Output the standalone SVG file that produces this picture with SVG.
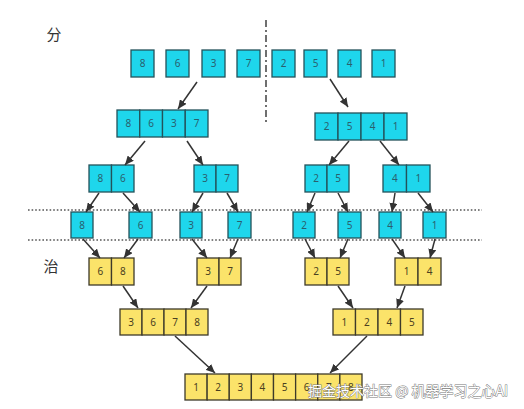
<svg xmlns="http://www.w3.org/2000/svg" width="524" height="409" viewBox="0 0 524 409">
<style>
.c rect{fill:#1ED6EC;stroke:#24525A;stroke-width:1.3}
.c text{fill:#2A5F6E}
.y rect{fill:#FBE36A;stroke:#3D3A2A;stroke-width:1.3}
.y text{fill:#4A4020}
text{font-family:"Noto Sans","Liberation Sans",sans-serif;font-size:10px;text-anchor:middle}
.lbl{font-family:"Noto Sans CJK SC",sans-serif;font-size:15px;fill:#333;text-anchor:middle}
.ar{stroke:#333;stroke-width:1.5;fill:none;marker-end:url(#ah)}
.dot{stroke:#555;stroke-width:1.6;stroke-dasharray:1.6 2}
</style>
<defs>
<marker id="ah" markerUnits="userSpaceOnUse" markerWidth="9" markerHeight="8" refX="9" refY="4" orient="auto">
<path d="M0,0 L9,4 L0,8 z" fill="#333"/>
</marker>
</defs>
<rect width="524" height="409" fill="#fff"/>
<text class="lbl" x="54" y="40">分</text>
<text class="lbl" x="51" y="272">治</text>
<line x1="266" y1="20" x2="266" y2="122" stroke="#333" stroke-width="1.4" stroke-dasharray="7 3 2 3"/>
<line class="dot" x1="28" y1="210" x2="482" y2="210"/>
<line class="dot" x1="28" y1="240" x2="482" y2="240"/>

<g id="top" class="c">
<rect x="131" y="50" width="23" height="27"/><text x="142.5" y="67">8</text>
<rect x="166" y="50" width="23" height="27"/><text x="177.5" y="67">6</text>
<rect x="202" y="50" width="23" height="27"/><text x="213.5" y="67">3</text>
<rect x="237" y="50" width="23" height="27"/><text x="248.5" y="67">7</text>
<rect x="272" y="50" width="23" height="27"/><text x="283.5" y="67">2</text>
<rect x="304" y="50" width="23" height="27"/><text x="315.5" y="67">5</text>
<rect x="338" y="50" width="23" height="27"/><text x="349.5" y="67">4</text>
<rect x="372" y="50" width="23" height="27"/><text x="383.5" y="67">1</text>
</g>

<g id="l2a" class="c">
<rect x="117" y="110" width="22.75" height="27"/><text x="128.4" y="127">8</text>
<rect x="139.75" y="110" width="22.75" height="27"/><text x="151.1" y="127">6</text>
<rect x="162.5" y="110" width="22.75" height="27"/><text x="173.9" y="127">3</text>
<rect x="185.25" y="110" width="22.75" height="27"/><text x="196.6" y="127">7</text>
</g>
<g id="l2b" class="c">
<rect x="315" y="113" width="23" height="27"/><text x="326.5" y="130">2</text>
<rect x="338" y="113" width="23" height="27"/><text x="349.5" y="130">5</text>
<rect x="361" y="113" width="23" height="27"/><text x="372.5" y="130">4</text>
<rect x="384" y="113" width="23" height="27"/><text x="395.5" y="130">1</text>
</g>

<g id="l3a" class="c">
<rect x="89" y="165" width="22.5" height="27"/><text x="100.25" y="182">8</text>
<rect x="111.5" y="165" width="22.5" height="27"/><text x="122.75" y="182">6</text>
</g>
<g id="l3b" class="c">
<rect x="194" y="165" width="22" height="27"/><text x="205" y="182">3</text>
<rect x="216" y="165" width="22" height="27"/><text x="227" y="182">7</text>
</g>
<g id="l3c" class="c">
<rect x="305" y="165" width="22" height="27"/><text x="316" y="182">2</text>
<rect x="327" y="165" width="22" height="27"/><text x="338" y="182">5</text>
</g>
<g id="l3d" class="c">
<rect x="383" y="165" width="23.5" height="27"/><text x="394.75" y="182">4</text>
<rect x="406.5" y="165" width="23.5" height="27"/><text x="418.25" y="182">1</text>
</g>

<g id="l4" class="c">
<rect x="71" y="212" width="22" height="26"/><text x="82" y="229">8</text>
<rect x="129" y="212" width="23" height="26"/><text x="140.5" y="229">6</text>
<rect x="180" y="212" width="22" height="26"/><text x="191" y="229">3</text>
<rect x="228" y="212" width="23" height="26"/><text x="239.5" y="229">7</text>
<rect x="293" y="212" width="22" height="26"/><text x="304" y="229">2</text>
<rect x="338" y="212" width="23" height="26"/><text x="349.5" y="229">5</text>
<rect x="379" y="212" width="22" height="26"/><text x="390" y="229">4</text>
<rect x="423" y="212" width="23" height="26"/><text x="434.5" y="229">1</text>
</g>

<g id="y1a" class="y">
<rect x="89" y="258" width="22.5" height="27"/><text x="100.25" y="275">6</text>
<rect x="111.5" y="258" width="22.5" height="27"/><text x="122.75" y="275">8</text>
</g>
<g id="y1b" class="y">
<rect x="197" y="258" width="22" height="27"/><text x="208" y="275">3</text>
<rect x="219" y="258" width="22" height="27"/><text x="230" y="275">7</text>
</g>
<g id="y1c" class="y">
<rect x="305" y="258" width="22" height="27"/><text x="316" y="275">2</text>
<rect x="327" y="258" width="22" height="27"/><text x="338" y="275">5</text>
</g>
<g id="y1d" class="y">
<rect x="395" y="258" width="23" height="27"/><text x="406.5" y="275">1</text>
<rect x="418" y="258" width="23" height="27"/><text x="429.5" y="275">4</text>
</g>

<g id="y2a" class="y">
<rect x="120" y="309" width="22" height="26"/><text x="131" y="326">3</text>
<rect x="142" y="309" width="22" height="26"/><text x="153" y="326">6</text>
<rect x="164" y="309" width="22" height="26"/><text x="175" y="326">7</text>
<rect x="186" y="309" width="22" height="26"/><text x="197" y="326">8</text>
</g>
<g id="y2b" class="y">
<rect x="333" y="309" width="22.5" height="26"/><text x="344.25" y="326">1</text>
<rect x="355.5" y="309" width="22.5" height="26"/><text x="366.75" y="326">2</text>
<rect x="378" y="309" width="22.5" height="26"/><text x="389.25" y="326">4</text>
<rect x="400.5" y="309" width="22.5" height="26"/><text x="411.75" y="326">5</text>
</g>

<g id="y3" class="y">
<rect x="185" y="374" width="22.125" height="26"/><text x="196.06" y="391">1</text>
<rect x="207.125" y="374" width="22.125" height="26"/><text x="218.19" y="391">2</text>
<rect x="229.25" y="374" width="22.125" height="26"/><text x="240.31" y="391">3</text>
<rect x="251.375" y="374" width="22.125" height="26"/><text x="262.44" y="391">4</text>
<rect x="273.5" y="374" width="22.125" height="26"/><text x="284.56" y="391">5</text>
<rect x="295.625" y="374" width="22.125" height="26"/><text x="306.69" y="391">6</text>
<rect x="317.75" y="374" width="22.125" height="26"/><text x="328.81" y="391">7</text>
<rect x="339.875" y="374" width="22.125" height="26"/><text x="350.94" y="391">8</text>
</g>

<g id="connectors">
<line class="ar" x1="197" y1="82" x2="178" y2="109"/>
<line class="ar" x1="330" y1="79" x2="348" y2="107"/>
<line class="ar" x1="145" y1="141" x2="125" y2="165"/>
<line class="ar" x1="187" y1="141" x2="203" y2="165"/>
<line class="ar" x1="349" y1="141" x2="329" y2="165"/>
<line class="ar" x1="380" y1="141" x2="399" y2="165"/>
<line class="ar" x1="99" y1="193" x2="86" y2="212"/>
<line class="ar" x1="123" y1="193" x2="140" y2="212"/>
<line class="ar" x1="203" y1="193" x2="192" y2="212"/>
<line class="ar" x1="227" y1="193" x2="238" y2="212"/>
<line class="ar" x1="315" y1="193" x2="307" y2="212"/>
<line class="ar" x1="338" y1="193" x2="348" y2="212"/>
<line class="ar" x1="395" y1="193" x2="392" y2="212"/>
<line class="ar" x1="418" y1="193" x2="433" y2="212"/>
<line class="ar" x1="83" y1="239" x2="100" y2="258"/>
<line class="ar" x1="138" y1="239" x2="124" y2="258"/>
<line class="ar" x1="192" y1="239" x2="207" y2="258"/>
<line class="ar" x1="238" y1="239" x2="230" y2="258"/>
<line class="ar" x1="305" y1="239" x2="315" y2="258"/>
<line class="ar" x1="348" y1="239" x2="340" y2="258"/>
<line class="ar" x1="392" y1="239" x2="405" y2="258"/>
<line class="ar" x1="435" y1="239" x2="430" y2="258"/>
<line class="ar" x1="123" y1="286" x2="138" y2="308"/>
<line class="ar" x1="207" y1="286" x2="191" y2="308"/>
<line class="ar" x1="338" y1="286" x2="353" y2="308"/>
<line class="ar" x1="405" y1="286" x2="397" y2="308"/>
<line class="ar" x1="175" y1="336" x2="215" y2="373"/>
<line class="ar" x1="367" y1="336" x2="330" y2="373"/>
</g>

<text x="308" y="396" style="font-family:'Noto Sans CJK SC',sans-serif;font-size:14px;text-anchor:start;fill:#fff;stroke:#777;stroke-width:0.9;paint-order:stroke">掘金技术社区 @ 机器学习之心AI</text>
</svg>
